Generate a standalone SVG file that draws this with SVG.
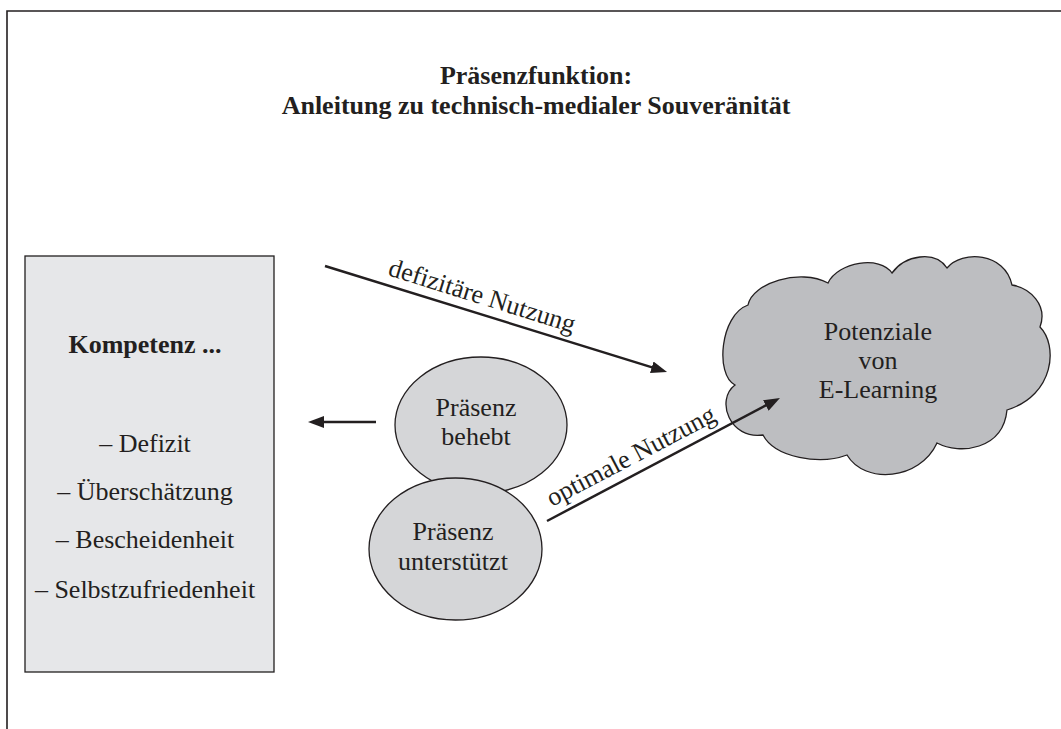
<svg xmlns="http://www.w3.org/2000/svg" width="1061" height="729" viewBox="0 0 1061 729">
  <style>
    text { font-family: "Liberation Serif", "Times New Roman", serif; font-size: 26px; fill: #231f20; }
    .b { font-weight: bold; }
    .m { text-anchor: middle; }
    .conn { stroke: #231f20; stroke-width: 2.5; fill: none; marker-end: url(#ah); }
    .shape { stroke: #231f20; stroke-width: 1.3; }
  </style>
  <defs>
    <marker id="ah" markerUnits="userSpaceOnUse" markerWidth="16" markerHeight="12" refX="8" refY="6" orient="auto">
      <path d="M0,0 L16,6 L0,12 Z" fill="#231f20"/>
    </marker>
  </defs>
  <rect x="0" y="0" width="1061" height="729" fill="#ffffff"/>
  <path d="M7,729 L7,11 L1061,11" fill="none" stroke="#231f20" stroke-width="1.6"/>

  <g id="title">
    <text class="b m" x="536" y="84">Präsenzfunktion:</text>
    <text class="b m" x="536" y="114">Anleitung zu technisch-medialer Souveränität</text>
  </g>

  <g id="kompetenz">
    <rect class="shape" x="25" y="256" width="249" height="416" fill="#e6e7e9"/>
    <text class="b m" x="145" y="353">Kompetenz ...</text>
    <text class="m" x="145" y="452">– Defizit</text>
    <text class="m" x="145" y="500">– Überschätzung</text>
    <text class="m" x="145" y="548">– Bescheidenheit</text>
    <text class="m" x="145" y="598">– Selbstzufriedenheit</text>
  </g>

  <g id="praesenz-behebt">
    <ellipse class="shape" cx="481" cy="425" rx="86" ry="68" fill="#d5d6d8"/>
    <text class="m" x="476" y="416">Präsenz</text>
    <text class="m" x="476" y="445">behebt</text>
  </g>

  <g id="praesenz-unterstuetzt">
    <ellipse class="shape" cx="455.5" cy="549" rx="86.5" ry="71" fill="#d5d6d8"/>
    <text class="m" x="453" y="540">Präsenz</text>
    <text class="m" x="453" y="570">unterstützt</text>
  </g>

  <g id="potenziale">
    <path class="shape" fill="#bdbec1" d="M748,305 C752,283 800,268 828,283 C838,262 880,255 892,273 C905,255 935,250 947,268 C962,250 1005,252 1012,285 C1030,288 1048,305 1040,327 C1058,345 1055,395 1007,410 C1003,450 960,455 937,443 C920,480 865,485 847,455 C820,465 775,458 763,435 C730,440 715,400 735,385 C715,375 720,315 748,305 Z"/>
    <text class="m" x="878" y="340">Potenziale</text>
    <text class="m" x="878" y="369">von</text>
    <text class="m" x="878" y="398">E-Learning</text>
  </g>

  <g id="connectors">
    <line class="conn" x1="325" y1="266" x2="659.4" y2="369.6"/>
    <text x="387" y="275" transform="rotate(17.3 387 275)">defizitäre Nutzung</text>
    <line class="conn" x1="547" y1="521" x2="772.9" y2="401.7"/>
    <text x="552" y="507" transform="rotate(-27.7 552 507)">optimale Nutzung</text>
    <line class="conn" x1="376" y1="422" x2="316" y2="422"/>
  </g>
</svg>
